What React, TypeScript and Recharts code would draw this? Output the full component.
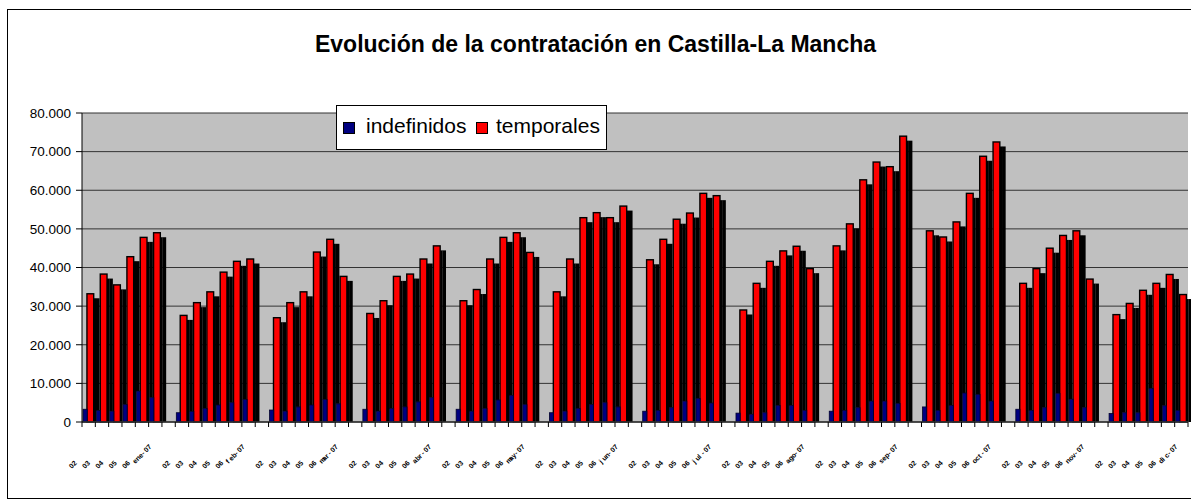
import { Bar, BarChart, CartesianGrid, XAxis, YAxis } from "recharts";

const months = ["ene", "feb", "mar", "abr", "may", "jun", "jul", "ago", "sep", "oct", "nov", "dic"];
const years = ["02", "03", "04", "05", "06", "07"];

// one row per month, one value per year
const indefinidos = [
  [3300, 3000, 2800, 4500, 8000, 6300],
  [2400, 2700, 3500, 4400, 5000, 5800],
  [3100, 2800, 3900, 4400, 5800, 4700],
  [3300, 2800, 3500, 3900, 5200, 6300],
  [3300, 2800, 3500, 5700, 6900, 4500],
  [2400, 2800, 3500, 4500, 5000, 3900],
  [2800, 3000, 3700, 5400, 6100, 4900],
  [2300, 2000, 2400, 4300, 4300, 3000],
  [2800, 3000, 3700, 5400, 5400, 4800],
  [3900, 3000, 4300, 7500, 7100, 5400],
  [3300, 3000, 3700, 7400, 5900, 3700],
  [2200, 2400, 2400, 8700, 4200, 3000]
];

const temporales = [
  [33200, 38300, 35500, 42800, 47800, 49000],
  [27600, 30900, 33700, 38800, 41600, 42200],
  [27000, 30900, 33700, 44000, 47300, 37700],
  [28100, 31400, 37700, 38300, 42200, 45600],
  [31400, 34300, 42200, 47800, 49000, 43900],
  [33700, 42200, 52900, 54200, 52900, 55900],
  [42000, 47300, 52500, 54100, 59200, 58600],
  [29000, 35900, 41600, 44300, 45500, 39700],
  [45600, 51300, 62700, 67300, 66100, 74000],
  [49500, 47900, 51800, 59200, 68800, 72500],
  [35900, 39700, 45000, 48300, 49500, 37000],
  [27800, 30700, 34100, 35900, 38200, 33000]
];

const yTicks = [0, 10000, 20000, 30000, 40000, 50000, 60000, 70000, 80000];

const FONT = "'Liberation Sans', Arial, sans-serif";
const WIDTH = 1191;
const HEIGHT = 501;
const MARGIN = { top: 113, right: 3, bottom: 0, left: 0 };
const Y_AXIS_W = 82;

type Row = {
  key: string;
  label: string;
  long: boolean;
  indefinidos: number | null;
  temporales: number | null;
};

const rows: Row[] = months.flatMap((month, gi) => {
  const cells: Row[] = years.map((yr, i) => ({
    key: `${month}-${yr}`,
    label: i === years.length - 1 ? `${month}-${yr}` : yr,
    long: i === years.length - 1,
    indefinidos: indefinidos[gi][i],
    temporales: temporales[gi][i]
  }));
  if (gi === months.length - 1) return cells;
  return [...cells, { key: `${month}-gap`, label: "", long: false, indefinidos: null, temporales: null }];
});

const band = (WIDTH - MARGIN.left - MARGIN.right - Y_AXIS_W) / rows.length;

const formatThousands = (v: number) => String(v).replace(/\B(?=(\d{3})+(?!\d))/g, ".");

// red front face with a dark 3D side on the right; the side stops above the next blue bar
const RedBar = (props: any) => {
  const { x, y, width, height, payload } = props;
  if (!height || height <= 0 || !payload) return <g />;
  const bottom = y + height;
  const idx = rows.findIndex((r) => r.key === payload.key);
  const perUnit = height / (payload.temporales as number);
  const next = rows[idx + 1];
  const nextBlueTop = next && next.indefinidos != null ? bottom - next.indefinidos * perUnit : bottom;
  const sideTop = y + 4.5;
  return (
    <g>
      <rect fill="#000" height={bottom - sideTop} width={width * 0.18} x={x + width * 0.9} y={sideTop} />
      <rect fill="#000" height={Math.max(0, nextBlueTop - sideTop)} width={width * 0.28} x={x + width * 1.07} y={sideTop} />
      <rect fill="#ff0000" height={height} stroke="#000" strokeWidth={1.4} width={width * 0.52} x={x + width * 0.38} y={y} />
    </g>
  );
};

const BlueBar = (props: any) => {
  const { x, y, width, height } = props;
  if (!height || height <= 0) return <g />;
  return <rect fill="#000080" height={height} stroke="#00002a" strokeWidth={0.8} width={width * 0.32} x={x + width * 0.08} y={y} />;
};

const CategoryTick = (props: any) => {
  const { x, y, index } = props;
  const row = rows[index];
  const left = x - band / 2;
  let label = null;
  if (row && row.label) {
    // glyphs laid out along a 45° diagonal, as the tiny slanted labels of the original
    const sx = row.long ? x - 20 : x - 17;
    const sy = row.long ? y + 42 : y + 47;
    const step = 2.8;
    const chars = row.label.split("");
    label = (
      <text
        fill="#000"
        fontFamily={FONT}
        fontSize={7}
        fontWeight="bold"
        rotate={chars.map(() => -45).join(" ")}
        x={chars.map((_, i) => (sx + i * step).toFixed(1)).join(" ")}
        y={chars.map((_, i) => (sy - i * step).toFixed(1)).join(" ")}
      >
        {row.label}
      </text>
    );
  }
  return (
    <g>
      <line stroke="#000" x1={left} x2={left} y1={y} y2={y + 5} />
      {index === rows.length - 1 && <line stroke="#000" x1={x + band / 2} x2={x + band / 2} y1={y} y2={y + 5} />}
      {label}
    </g>
  );
};

export default function App() {
  return (
    <div style={{ position: "absolute", left: 0, top: 0, width: WIDTH, height: HEIGHT, background: "#fff", overflow: "hidden" }}>
      <div style={{ position: "absolute", left: 7, top: 9, width: 1200, height: 488, border: "1px solid #000" }} />
      <div
        style={{
          position: "absolute",
          left: 0,
          top: 31,
          width: WIDTH,
          textAlign: "center",
          fontFamily: FONT,
          fontSize: 23,
          fontWeight: "bold",
          lineHeight: "26px"
        }}
      >
        Evolución de la contratación en Castilla-La Mancha
      </div>
      <BarChart barCategoryGap={0} barGap={0} data={rows} height={HEIGHT} margin={MARGIN} width={WIDTH}>
        <CartesianGrid fill="#c0c0c0" fillOpacity={1} stroke="#333" vertical={false} xAxisId="i" />
        <XAxis dataKey="key" hide xAxisId="t" />
        <XAxis
          axisLine={{ stroke: "#333", strokeWidth: 1.5 }}
          dataKey="key"
          height={HEIGHT - MARGIN.top - 309}
          interval={0}
          tick={<CategoryTick />}
          tickLine={false}
          tickMargin={0}
          tickSize={0}
          xAxisId="i"
        />
        <YAxis
          axisLine={{ stroke: "#000" }}
          domain={[0, 80000]}
          tick={{ fill: "#000", fontFamily: FONT, fontSize: 13.5 }}
          tickFormatter={formatThousands}
          tickLine={{ stroke: "#000" }}
          tickMargin={5}
          tickSize={6}
          ticks={yTicks}
          width={Y_AXIS_W}
        />
        <Bar dataKey="temporales" isAnimationActive={false} shape={RedBar} xAxisId="t" />
        <Bar dataKey="indefinidos" isAnimationActive={false} shape={BlueBar} xAxisId="i" />
      </BarChart>
      <div
        style={{
          position: "absolute",
          left: 336,
          top: 105,
          width: 271,
          height: 45,
          background: "#fff",
          border: "1px solid #000",
          fontFamily: FONT,
          fontSize: 21,
          boxSizing: "border-box"
        }}
      >
        <span style={{ position: "absolute", left: 6, top: 16, width: 10, height: 10, background: "#000080", border: "1px solid #000" }} />
        <span style={{ position: "absolute", left: 29, top: 8, lineHeight: "24px" }}>indefinidos</span>
        <span style={{ position: "absolute", left: 139, top: 16, width: 10, height: 10, background: "#ff0000", border: "1px solid #000" }} />
        <span style={{ position: "absolute", left: 159, top: 8, lineHeight: "24px" }}>temporales</span>
      </div>
    </div>
  );
}
